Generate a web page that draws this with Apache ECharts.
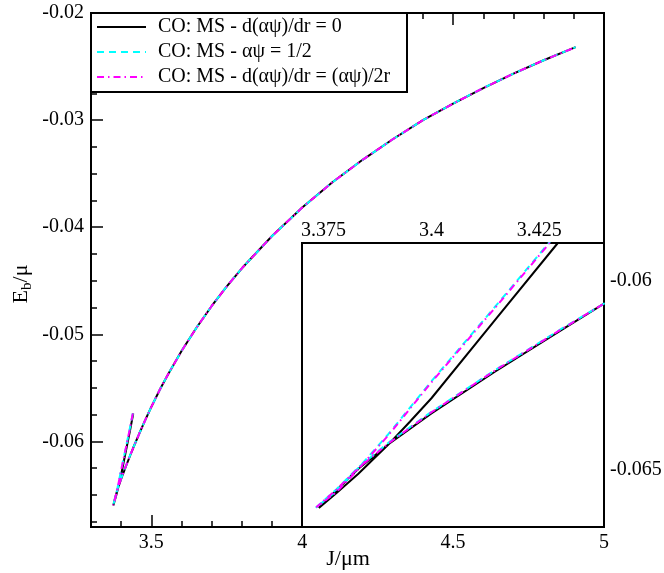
<!DOCTYPE html>
<html><head><meta charset="utf-8">
<script src="https://cdn.jsdelivr.net/npm/echarts@6/dist/echarts.min.js"></script>
<style>html,body{margin:0;padding:0;background:#fff}#c{width:664px;height:573px}</style>
</head><body><div id="c"></div><script>
const seriesNames = ['CO: MS - d(αψ)/dr = 0', 'CO: MS - αψ = 1/2', 'CO: MS - d(αψ)/dr = (αψ)/2r'];
const seriesColors = ['#000000', '#00ffff', '#ff00ff'];
const xTitle = 'J/μm';

// upper (steep) branch, from its upper end down to the cusp
const jSteepBlack = [3.440, 3.4293, 3.415, 3.400, 3.395, 3.3902, 3.383, 3.378, 3.3739];
const eSteepBlack = [-0.0574, -0.0590, -0.0610, -0.06310, -0.06372, -0.06430, -0.06510, -0.06560, -0.0660];
const jSteepCyan = [3.4385, 3.4272, 3.415, 3.400, 3.390, 3.383, 3.378, 3.3731];
const eSteepCyan = [-0.0574, -0.0590, -0.06065, -0.06265, -0.06405, -0.06495, -0.06555, -0.06600];
const jSteepMag = [3.4385, 3.4274, 3.415, 3.400, 3.390, 3.383, 3.378, 3.3733];
const eSteepMag = [-0.0574, -0.0590, -0.06068, -0.06268, -0.06408, -0.06498, -0.06558, -0.06598];

// lower branch near the cusp
const jLow = [3.378, 3.383, 3.3902, 3.400, 3.4147, 3.4301];
const eLowBlack = [-0.06553, -0.06497, -0.06430, -0.06350, -0.06240, -0.06130];
const eLowCyan = [-0.06550, -0.06493, -0.06426, -0.06346, -0.06236, -0.06127];
const eLowMag = [-0.06551, -0.06495, -0.06428, -0.06347, -0.06237, -0.06128];

// common main branch
const jMain = [3.44, 3.46, 3.48, 3.50, 3.53, 3.557, 3.60, 3.65, 3.70, 3.75, 3.80, 3.90, 4.00, 4.10, 4.20, 4.30, 4.40, 4.50, 4.60, 4.70, 4.80, 4.906];
const eMain = [-0.0606, -0.05927, -0.05800, -0.05678, -0.05506, -0.05366, -0.05157, -0.04937, -0.04736, -0.04552, -0.04384, -0.04083, -0.03817, -0.03581, -0.03371, -0.03179, -0.03001, -0.02846, -0.02701, -0.02566, -0.02441, -0.02319];

// tick values
const mainXMajor = [3.5, 4, 4.5, 5];
const mainXMinor = [3.4, 3.6, 3.7, 3.8, 3.9, 4.1, 4.2, 4.3, 4.4, 4.6, 4.7, 4.8, 4.9];
const mainYMajor = [-0.06, -0.05, -0.04, -0.03, -0.02];
const mainYMinor = [-0.0675, -0.065, -0.0625, -0.0575, -0.055, -0.0525, -0.0475, -0.045, -0.0425, -0.0375, -0.035, -0.0325, -0.0275, -0.025, -0.0225];
const insetXMajor = [3.375, 3.4, 3.425];
const insetXMinor = [3.38, 3.385, 3.39, 3.395, 3.405, 3.41, 3.415, 3.42, 3.43, 3.435];
const insetYMajor = [-0.065, -0.06];
const insetYMinor = [-0.066, -0.064, -0.063, -0.062, -0.061];

function pairs(js, es) { return js.map((j, i) => [j, es[i]]); }
const curves = [
  pairs(jSteepBlack, eSteepBlack).concat(pairs(jLow, eLowBlack), pairs(jMain, eMain)),
  pairs(jSteepCyan, eSteepCyan).concat(pairs(jLow, eLowCyan), pairs(jMain, eMain)),
  pairs(jSteepMag, eSteepMag).concat(pairs(jLow, eLowMag), pairs(jMain, eMain))
];
const dashes = [null, [7, 5], [7, 4, 1.5, 4]];

const FF = 'Liberation Serif';
const tickStyle = { color: '#000', width: 1.5 };

function axis(o) {
  return Object.assign({
    type: 'value', splitLine: { show: false }, axisLine: { show: false },
    axisLabel: { show: false }, axisTick: { show: false }
  }, o);
}
function ticks(vals, len) {
  return { show: true, inside: true, length: len, customValues: vals, lineStyle: tickStyle };
}
function labels(vals, margin) {
  return { show: true, customValues: vals, margin: margin, color: '#000', fontSize: 20, fontFamily: FF };
}

const xAxis = [
  axis({ gridIndex: 0, min: 3.3, max: 5, position: 'bottom', axisTick: ticks(mainXMajor, 12), axisLabel: labels(mainXMajor, 6) }),
  axis({ gridIndex: 0, min: 3.3, max: 5, position: 'bottom', axisTick: ticks(mainXMinor, 6) }),
  axis({ gridIndex: 0, min: 3.3, max: 5, position: 'top', axisTick: ticks(mainXMajor, 12) }),
  axis({ gridIndex: 0, min: 3.3, max: 5, position: 'top', axisTick: ticks(mainXMinor, 6) }),
  axis({ gridIndex: 1, min: 3.37, max: 3.44, position: 'top', axisTick: ticks(insetXMajor, 12), axisLabel: labels(insetXMajor, 2) }),
  axis({ gridIndex: 1, min: 3.37, max: 3.44, position: 'top', axisTick: ticks(insetXMinor, 6) })
];
const yAxis = [
  axis({ gridIndex: 0, min: -0.068, max: -0.02, position: 'left', axisTick: ticks(mainYMajor, 12), axisLabel: labels(mainYMajor, 7) }),
  axis({ gridIndex: 0, min: -0.068, max: -0.02, position: 'left', axisTick: ticks(mainYMinor, 6) }),
  axis({ gridIndex: 1, min: -0.0665, max: -0.059, position: 'right', axisTick: ticks(insetYMajor, 12), axisLabel: labels(insetYMajor, 6) }),
  axis({ gridIndex: 1, min: -0.0665, max: -0.059, position: 'right', axisTick: ticks(insetYMinor, 6) })
];

const series = [];
curves.forEach((d, i) => {
  const ls = { color: seriesColors[i], width: 2 };
  if (dashes[i]) { ls.type = dashes[i]; }
  series.push({ type: 'line', name: seriesNames[i], data: d, xAxisIndex: 0, yAxisIndex: 0, showSymbol: false, symbol: 'none', lineStyle: ls, z: 3 + i });
  series.push({ type: 'line', name: seriesNames[i] + ' inset', data: d, xAxisIndex: 4, yAxisIndex: 2, showSymbol: false, symbol: 'none', lineStyle: ls, z: 13 + i });
});

// legend box and axis titles
const graphics = [{ type: 'rect', shape: { x: 91, y: 13, width: 316, height: 79 }, style: { fill: '#fff', stroke: '#000', lineWidth: 2 }, z: 100 }];
seriesNames.forEach((n, i) => {
  const y = 27 + 25 * i;
  const st = { stroke: seriesColors[i], lineWidth: 2 };
  if (dashes[i]) st.lineDash = dashes[i];
  graphics.push({ type: 'line', shape: { x1: 97, y1: y, x2: 146, y2: y }, style: st, z: 101 });
  graphics.push({ type: 'text', x: 158, y: y, style: { text: n, fontSize: 20, fontFamily: FF, fill: '#000', verticalAlign: 'middle' }, z: 101 });
});
graphics.push({ type: 'text', x: 21, y: 284, rotation: Math.PI / 2, z: 101,
  style: { text: '{e|E}{s|b}{e|/μ}', align: 'center', verticalAlign: 'middle', fill: '#000',
    rich: { e: { fontSize: 22, fontFamily: FF, fill: '#000' }, s: { fontSize: 15, fontFamily: FF, fill: '#000', padding: [12, 0, 0, 0] } } } });
graphics.push({ type: 'text', x: 348, y: 559, z: 101,
  style: { text: xTitle, fontSize: 22, fontFamily: FF, fill: '#000', align: 'center', verticalAlign: 'middle' } });

const chart = echarts.init(document.getElementById('c'), null, { renderer: 'canvas' });
chart.setOption({
  animation: false,
  backgroundColor: '#fff',
  grid: [
    { left: 91, top: 13, right: 60, bottom: 46, show: true, borderColor: '#000', borderWidth: 2, backgroundColor: 'transparent', containLabel: false, outerBoundsMode: 'none' },
    { left: 302, top: 243, right: 60, bottom: 46, show: true, borderColor: '#000', borderWidth: 2, backgroundColor: '#fff', containLabel: false, outerBoundsMode: 'none', z: 5 }
  ],
  xAxis: xAxis,
  yAxis: yAxis,
  series: series,
  graphic: graphics
});
</script></body></html>
